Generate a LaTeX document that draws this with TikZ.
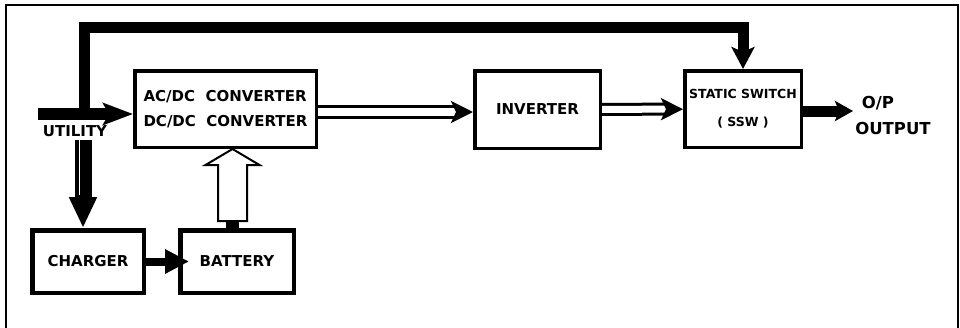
\documentclass[tikz,border=0pt]{standalone}
\usepackage{fontspec}
\setmainfont{DejaVu Sans}
\usetikzlibrary{arrows.meta,calc}

\begin{document}
\begin{tikzpicture}[
    x=1pt, y=-1pt,
    % boxes of the UPS
    block/.style={draw, line width=3.5pt, inner sep=0pt,
        font=\bfseries\fontsize{15}{25}\selectfont},
    % thick black power line
    power/.style={line width=12pt, -{Stealth[length=30pt,width=22pt,inset=6pt]}},
    % hollow double line
    hollow/.style={double, double distance=8pt, line width=3pt,
        -{Stealth[length=22pt,width=22pt,inset=5pt]}},
    % black feed arrows at the bottom
    feed/.style={line width=8pt, -{Triangle[length=24pt,width=23pt]}},
    lbl/.style={font=\bfseries\fontsize{15}{18}\selectfont, inner sep=0pt}
]
    \useasboundingbox (0,0) rectangle (960,327);

    % Outer frame (open at the bottom)
    \draw[line width=2pt] (6,330) -- (6,5) -- (958,5) -- (958,330);

    % Blocks
    \node[block, minimum width=181.5pt, minimum height=76.5pt, align=left] (conv) at (225.5,109)
        {AC/DC~~CONVERTER\\DC/DC~~CONVERTER};
    \node[block, minimum width=125.5pt, minimum height=77.5pt] (inv) at (537.5,109.5) {INVERTER};
    \node[block, minimum width=116.5pt, minimum height=76.5pt, align=center,
        font=\bfseries\fontsize{12.5}{28}\selectfont] (ssw) at (743,109) {STATIC SWITCH\\( SSW )};
    \node[block, line width=4.5pt, minimum width=111.5pt, minimum height=62.5pt] (charger) at (88,261.5) {CHARGER};
    \node[block, line width=4.5pt, minimum width=113.5pt, minimum height=62.5pt] (battery) at (237,261.5) {BATTERY};

    % Labels
    \node[lbl] (utility) at (75,131) {UTILITY};
    \node[lbl, font=\bfseries\fontsize{16.5}{18}\selectfont] (op) at (878,103) {O/P};
    \node[lbl, font=\bfseries\fontsize{16.5}{18}\selectfont] (output) at (893,128) {OUTPUT};

    % Free ends
    \coordinate (mains) at (38,114);
    \coordinate (tap) at (84,114);
    \coordinate (bypass) at (84,27.5);
    \coordinate (dcbus) at (320,112);
    \coordinate (chtop) at (83,140);
    \coordinate (optip) at (853,111);

    % Utility in and bypass to the static switch
    \draw[power] (mains) -- (mains -| conv.west);
    \draw[power, line width=11pt, -{Stealth[length=22pt,width=23pt,inset=5pt]}]
        (tap) -- (bypass) -| (ssw.north);

    % Converter -> inverter -> static switch
    \draw[hollow] (conv.east |- dcbus) -- (inv.west |- dcbus);
    \draw[hollow, double distance=7pt] (inv) -- (ssw);

    % Output
    \draw[power, line width=11pt, -{Stealth[length=18pt,width=20pt,inset=4pt]}] (ssw.east |- optip) -- (optip);

    % Utility -> charger -> battery
    \draw[line width=17pt, -{Triangle[length=31pt,width=26pt]}] (chtop) -- (chtop |- charger.north);
    \draw[white, line width=1.8pt] ($(chtop)+(-3.5,0)$) -- ($(chtop |- charger.north)+(-3.5,-33)$);
    \draw[feed, shorten >=-11pt] (charger) -- (battery);

    % Battery -> converter (hollow block arrow)
    \coordinate (bt) at ($(battery.north)+(-4.5,0)$);
    \coordinate (bh) at (bt |- conv.south);
    \fill ($(bt)+(-6.5,-8)$) rectangle ($(bt)+(6.5,0)$);
    \draw[line width=2pt, fill=white] ($(bt)+(-14.5,-7)$) -- ($(bh)+(-14.5,16)$) -- ($(bh)+(-27,16)$)
        -- (bh) -- ($(bh)+(27,16)$) -- ($(bh)+(14.5,16)$) -- ($(bt)+(14.5,-7)$) -- cycle;
\end{tikzpicture}
\end{document}
